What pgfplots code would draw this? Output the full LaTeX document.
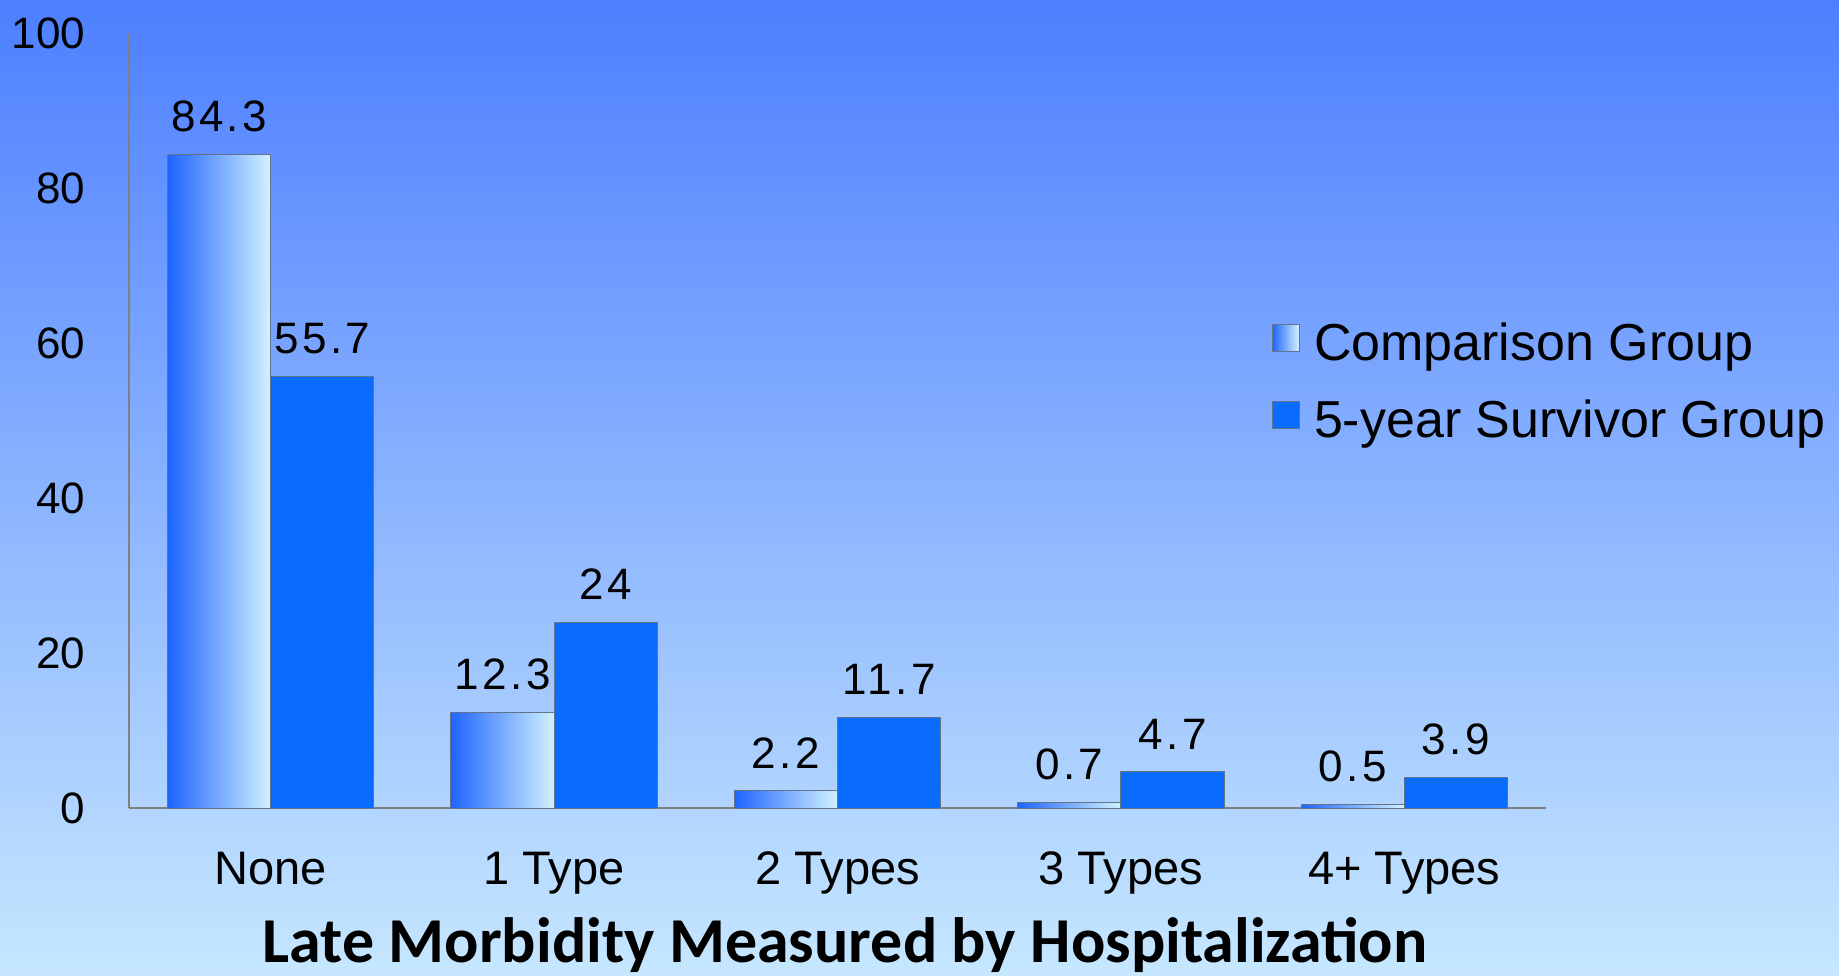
\documentclass[border=0pt]{standalone}
\usepackage{fontspec}
\setmainfont{Liberation Sans}
\newfontfamily\titlefont{Carlito}
\newfontfamily\lblfont{Liberation Sans}[LetterSpace=8]
\usepackage{pgfplots}
\pgfplotsset{compat=1.18}
\definecolor{bgtop}{RGB}{77,127,255}
\definecolor{bgmid}{RGB}{150,185,255}
\definecolor{bgbot}{RGB}{198,231,255}
\definecolor{survivor}{RGB}{10,108,255}
\definecolor{cmpL}{RGB}{30,100,255}
\definecolor{cmpM}{RGB}{140,180,255}
\definecolor{cmpR}{RGB}{210,242,255}
\definecolor{edge}{RGB}{100,115,140}
\pgfplotsset{
  cmpbar/.style={draw=edge, line width=0.5pt, left color=cmpL, middle color=cmpM, right color=cmpR, bar shift=-0.182},
}
\begin{document}
\begin{tikzpicture}
\path[use as bounding box] (0,0) rectangle (919.5pt,487.5pt);
\shade[top color=bgtop, middle color=bgmid, bottom color=bgbot] (0,0) rectangle (919.5pt,487.5pt);
\begin{axis}[
  at={(64.5pt,83.5pt)}, anchor=south west,
  scale only axis, width=708.5pt, height=387.5pt,
  xmin=-0.5, xmax=4.5, ymin=0, ymax=100,
  axis x line*=bottom, axis y line*=left,
  axis line style={draw=gray, line width=1pt},
  xtick={0,1,2,3,4},
  xticklabels={None,1 Type,2 Types,3 Types,4+ Types},
  ytick={0,20,40,60,80,100},
  major tick length=0pt,
  /pgf/number format/assume math mode=true,
  yticklabel style={font=\fontsize{22}{22}\selectfont, anchor=east, inner sep=0pt, xshift=-21.7pt},
  xticklabel style={font=\fontsize{23.5}{23.5}\selectfont, anchor=base, inner sep=0pt, yshift=-38pt},
  ybar, bar width=0.364,
  nodes near coords={\pgfmathprintnumber[assume math mode=true]{\pgfplotspointmeta}},
  nodes near coords style={font=\lblfont\fontsize{22}{22}\selectfont, anchor=south, inner sep=0pt, yshift=11pt, text=black},
  xlabel={Late Morbidity Measured by Hospitalization},
  xlabel style={font=\titlefont\bfseries\fontsize{32}{32}\selectfont, at={(axis description cs:0.5,0)}, anchor=base, yshift=-77pt, xshift=3.75pt, inner sep=0pt},
  legend style={at={(axis description cs:0.806,0.632)}, anchor=north west, draw=none, fill=none, inner sep=0pt, row sep=14.2pt, font=\fontsize{26}{26}\selectfont},
  legend cell align=left,
  legend image code/.code={\draw[#1, draw=edge, line width=0.5pt] (0pt,-4.25pt) rectangle (13.5pt,9.25pt); \pgfpathrectangle{\pgfpoint{0pt}{0pt}}{\pgfpoint{19pt}{0.1pt}}\pgfusepath{discard}},
]
\addplot[cmpbar] coordinates {(0,84.3)};
\addlegendentry{Comparison Group}
\addplot[cmpbar, forget plot] coordinates {(1,12.3)};
\addplot[cmpbar, forget plot] coordinates {(2,2.2)};
\addplot[cmpbar, forget plot] coordinates {(3,0.7)};
\addplot[cmpbar, forget plot] coordinates {(4,0.5)};
\addplot[draw=edge, line width=0.5pt, fill=survivor, bar shift=0.182] coordinates {(0,55.7) (1,24) (2,11.7) (3,4.7) (4,3.9)};
\addlegendentry{5-year Survivor Group}
\end{axis}
\end{tikzpicture}
\end{document}
